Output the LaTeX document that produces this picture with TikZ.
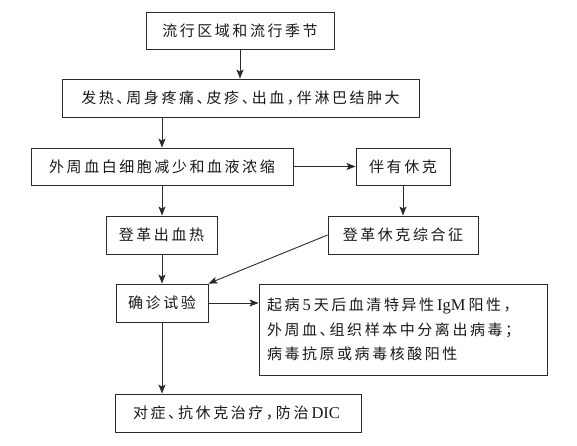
\documentclass[tikz,border=0pt]{standalone}
\usepackage{fontspec}
\setmainfont{Liberation Serif}
\newfontfamily\cjk[LetterSpace=17,RawFeature={+halt}]{Noto Sans CJK SC}
\newcommand{\lat}[1]{\hspace{3pt}{\rmfamily\fontsize{16.5}{17}\selectfont #1}\hspace{3pt}}
\usetikzlibrary{arrows.meta}
\definecolor{ink}{HTML}{2B2B2B}
\tikzset{
  box/.style={draw=ink, line width=0.9pt, rectangle, inner sep=0pt, align=center,
    font=\cjk\fontsize{15}{17}\selectfont, text=black!90},
  conn/.style={draw=ink, line width=0.9pt, -{Stealth[length=9pt,width=7pt,inset=2pt]}}
}
\begin{document}
\begin{tikzpicture}[x=1pt,y=-1pt]
\useasboundingbox (0,0) rectangle (577,446);
\node[box, minimum width=188pt, minimum height=37pt] (b1) at (240,30.5) {流行区域和流行季节};
\node[box, minimum width=357pt, minimum height=38pt] (b2) at (240.5,98) {发热、周身疼痛、皮疹、出血，伴淋巴结肿大};
\node[box, minimum width=262pt, minimum height=37pt] (b3) at (162,166.5) {外周血白细胞减少和血液浓缩};
\node[box, minimum width=94pt, minimum height=37pt] (b4) at (403,166.5) {伴有休克};
\node[box, minimum width=111pt, minimum height=38pt] (b5) at (161.5,235) {登革出血热};
\node[box, minimum width=150pt, minimum height=38pt] (b6) at (403,235) {登革休克综合征};
\node[box, minimum width=92pt, minimum height=38pt] (b7) at (162,303) {确诊试验};
\node[box, minimum width=288pt, minimum height=91pt, text width=272pt, align=left,
  font=\cjk\fontsize{15}{24.5}\selectfont] (b8) at (403,329.5)
  {起病\lat{5}天后血清特异性\lat{IgM}阳性，\\外周血、组织样本中分离出病毒；\\病毒抗原或病毒核酸阳性};
\node[box, minimum width=246pt, minimum height=38pt] (b9) at (238,413) {对症、抗休克治疗，防治\lat{DIC}};
\draw[conn] (b1.south) -- (b1.south |- b2.north);
\draw[conn] (b2.south -| b3) -- (b3.north);
\draw[conn] (b3.east) -- (b4.west);
\draw[conn] (b4.south) -- (b6.north);
\draw[conn] (b3.south) -- (b3.south |- b5.north);
\draw[conn] (b5.south -| b7) -- (b7.north);
\draw[conn] (b6.west) -- (b7.north east);
\draw[conn] (b7.east) -- (b7.east -| b8.west);
\draw[conn] (b7.south) -- (b7.south |- b9.north);
\end{tikzpicture}
\end{document}
